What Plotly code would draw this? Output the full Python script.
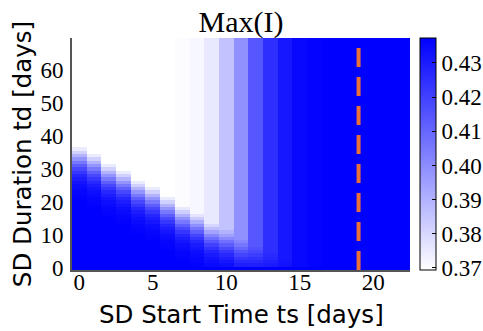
import numpy as np
import plotly.graph_objects as go

# ---- data ----
ts_days = list(range(23))          # SD start time ts (columns)
td_days = list(range(70))          # SD duration td (rows)
tick_x = [0, 5, 10, 15, 20]
tick_y = [0, 10, 20, 30, 40, 50, 60]
cbar_ticks = [0.37, 0.38, 0.39, 0.40, 0.41, 0.42, 0.43]
peak_time = 19                     # dashed vertical marker

# fade region of the early-start columns (from blue towards white, bottom to top)
fade_white = [0.4368, 0.4363, 0.4356, 0.4346, 0.4336, 0.4319, 0.4298, 0.4271,
              0.4230, 0.4183, 0.4122, 0.4054, 0.3979, 0.3898, 0.3816, 0.3748]

# Max(I) per start-time column, listed from td = 0 upward
col_ts0 = [0.4373] * 21 + fade_white + [0.3694] * 33
col_ts1 = [0.4373] * 19 + fade_white + [0.3694] * 35
col_ts2 = [0.4373] * 16 + fade_white + [0.3694] * 38
col_ts3 = [0.4373] * 14 + fade_white + [0.3694] * 40
col_ts4 = [0.4373] * 11 + fade_white + [0.3694] * 43
col_ts5 = [0.4373] * 9 + fade_white + [0.3694] * 45
col_ts6 = [0.4373] * 6 + fade_white + [0.3694] * 48
col_ts7 = [0.4373] * 3 + [0.4368, 0.4363, 0.4356, 0.4346, 0.4336, 0.4319, 0.4299, 0.4273,
                          0.4232, 0.4185, 0.4124, 0.4057, 0.3983, 0.3902, 0.3822, 0.3754] + [0.3701] * 51
col_ts8 = [0.4373] + [0.4368, 0.4363, 0.4357, 0.4347, 0.4337, 0.4320, 0.4301, 0.4274,
                      0.4235, 0.4189, 0.4129, 0.4063, 0.3991, 0.3912, 0.3833, 0.3767] + [0.3714] * 53
col_ts9 = [0.4373] + [0.4348, 0.4339, 0.4324, 0.4305, 0.4280, 0.4243, 0.4200, 0.4144,
                      0.4083, 0.4015, 0.3940, 0.3866, 0.3805] + [0.3755] * 56
col_ts10 = [0.4373] + [0.4332, 0.4316, 0.4296, 0.4265, 0.4229, 0.4182, 0.4130, 0.4074,
                       0.4012, 0.3950, 0.3898] + [0.3857] * 58
col_ts11 = [0.4373] + [0.4292, 0.4266, 0.4231, 0.4193, 0.4150, 0.4104, 0.4058, 0.4020] + [0.3989] * 61
col_ts12 = [0.4373] + [0.4288, 0.4265, 0.4239, 0.4211, 0.4184, 0.4161] + [0.4142] * 63
col_ts13 = [0.4373] + [0.4302, 0.4287, 0.4273, 0.4261] + [0.4251] * 65
col_ts14 = [0.4373] + [0.4326, 0.4320] + [0.4315] * 67
col_ts15 = [0.4373] + [0.4353] * 69
col_ts16 = [0.4373] + [0.4366] * 69
col_ts17 = [0.4373] * 70
col_ts18 = [0.4373] * 70
col_ts19 = [0.4373] * 70
col_ts20 = [0.4373] * 70
col_ts21 = [0.4373] * 70
col_ts22 = [0.4373] * 70

columns = [col_ts0, col_ts1, col_ts2, col_ts3, col_ts4, col_ts5, col_ts6, col_ts7,
           col_ts8, col_ts9, col_ts10, col_ts11, col_ts12, col_ts13, col_ts14, col_ts15,
           col_ts16, col_ts17, col_ts18, col_ts19, col_ts20, col_ts21, col_ts22]
z = np.array(columns).T  # rows = td, cols = ts

SERIF = "Liberation Serif, serif"
SANS = "DejaVu Sans, sans-serif"

fig = go.Figure()
fig.add_trace(go.Heatmap(
    x=ts_days, y=td_days, z=z,
    zmin=0.3694, zmax=0.4373,
    colorscale=[[0, "#ffffff"], [1, "#0000ff"]],
    colorbar=dict(
        x=1.03, xanchor="left", xpad=0, ypad=0,
        y=0.5, yanchor="middle", len=1, lenmode="fraction",
        thickness=16, outlinewidth=1, outlinecolor="black",
        tickvals=cbar_ticks, ticktext=[f"{v:.2f}" for v in cbar_ticks],
        ticks="inside", ticklen=4, tickcolor="black",
        tickfont=dict(family=SERIF, size=23, color="black"),
    ),
    hoverinfo="skip",
))

fig.add_trace(go.Scatter(
    x=[peak_time, peak_time], y=[-0.5, 69.5], mode="lines",
    line=dict(color="#E8703A", width=4, dash="19px,10px"),
    showlegend=False, hoverinfo="skip",
))

fig.update_layout(
    width=483, height=331,
    font=dict(family=SERIF, color="black"),
    margin=dict(l=72, r=73, t=38, b=61, autoexpand=False),
    paper_bgcolor="white", plot_bgcolor="white",
    title=dict(text="Max(I)", x=0.5, xref="paper", xanchor="center",
               y=1 - 21 / 331, yref="container", yanchor="middle",
               font=dict(family=SERIF, size=30, color="black")),
    showlegend=False,
    annotations=[dict(
        text="SD Start Time ts [days]", x=0.5, xref="paper", xanchor="center",
        y=-(314 - 270) / 232, yref="paper", yanchor="middle", showarrow=False,
        font=dict(family=SANS, size=24.5, color="black"),
    )],
)
fig.update_xaxes(
    range=[-0.5, 22.5], tickvals=tick_x, showgrid=False, zeroline=False,
    showline=True, linecolor="#555555", linewidth=2,
    ticks="", ticklabelstandoff=-10,
    tickfont=dict(family=SERIF, size=23, color="black"),
    automargin=False,
)
fig.update_yaxes(
    range=[-0.5, 69.5], tickvals=tick_y, showgrid=False, zeroline=False,
    showline=True, linecolor="#555555", linewidth=2,
    ticks="outside", ticklen=2, tickcolor="rgba(0,0,0,0)",
    tickfont=dict(family=SERIF, size=23, color="black"),
    automargin=False,
    title=dict(text="SD Duration td [days]", standoff=2,
               font=dict(family=SANS, size=24.5, color="black")),
)

fig.write_html("out.html")
